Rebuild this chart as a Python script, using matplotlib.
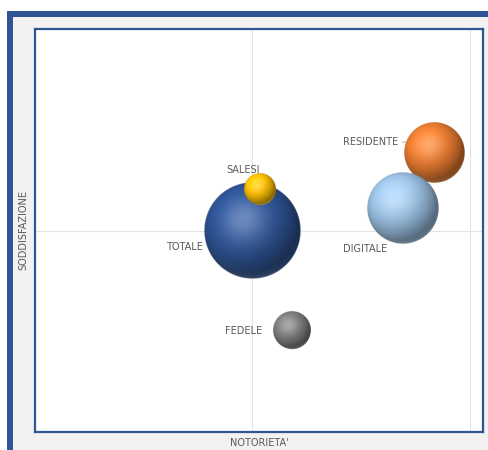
import numpy as np
import matplotlib
matplotlib.use('Agg')
import matplotlib.pyplot as plt
from matplotlib.patches import Rectangle
from matplotlib.colors import to_rgb
from matplotlib.transforms import offset_copy

# dati (notorieta', soddisfazione, dimensione)
segmenti = ['TOTALE', 'RESIDENTE', 'DIGITALE', 'SALESI', 'FEDELE']
notorieta = [50.0, 91.8, 84.5, 51.7, 59.1]
soddisfazione = [50.0, 69.2, 55.6, 60.2, 25.1]
dimensione = [100, 40, 55, 11, 15]
colori = ['#2F5597', '#ED7D31', '#9DC3E6', '#FFC000', '#7F7F7F']

W, H = 488, 450
fig = plt.figure(figsize=(W / 100, H / 100), dpi=100)
fig.patch.set_facecolor('white')

# cornice blu + pannello grigio
fig.add_artist(Rectangle((7 / W, 0), 1, (H - 11) / H, transform=fig.transFigure,
                         facecolor='#2F5597', edgecolor='none', zorder=0))
fig.add_artist(Rectangle((13 / W, 0), 1, (H - 17) / H, transform=fig.transFigure,
                         facecolor='#F3F2F0', edgecolor='none', zorder=0))

ax = fig.add_axes([35 / W, (H - 432) / H, 448 / W, 403 / H])
ax.set_facecolor('white')
ax.set_xlim(0, 103)
ax.set_ylim(0, 100)
ax.set_xticks([0, 50, 100])
ax.set_yticks([0, 50, 100])
ax.tick_params(length=0, labelbottom=False, labelleft=False)
ax.grid(True, color='#E3E3E3', lw=0.8)
ax.set_axisbelow(True)
for s in ax.spines.values():
    s.set_color('#2F5597')
    s.set_linewidth(1.6)

ax.set_xlabel("NOTORIETA'", fontsize=7, color='#595959', labelpad=4)
ax.set_ylabel('SODDISFAZIONE', fontsize=7, color='#595959', labelpad=5)


def sfera(colore, n=240):
    v, u = np.mgrid[1:-1:n * 1j, -1:1:n * 1j]
    r2 = u ** 2 + v ** 2
    z = np.sqrt(np.clip(1 - r2, 0, 1))
    L = np.array([-0.35, 0.45, 0.82])
    L = L / np.linalg.norm(L)
    diff = np.clip(u * L[0] + v * L[1] + z * L[2], 0, 1)
    Hv = L + np.array([0, 0, 1.0])
    Hv = Hv / np.linalg.norm(Hv)
    spec = np.clip(u * Hv[0] + v * Hv[1] + z * Hv[2], 0, 1) ** 10 * 0.28
    refl = np.clip(-v - 0.2, 0, 1) ** 2 * (1 - z) ** 2 * 0.3
    base = np.array(to_rgb(colore))
    shade = 0.55 + 0.55 * diff
    rgb = np.clip(base[None, None, :] * shade[..., None], 0, 1)
    rgb = rgb + (1 - rgb) * (spec + refl)[..., None]
    alpha = np.clip((1 - np.sqrt(r2)) * n / 2.5, 0, 1)
    return np.dstack([np.clip(rgb, 0, 1), alpha])


scala = 47.8
sizes = [d * scala for d in dimensione]
for x, y, s, c in zip(notorieta, soddisfazione, sizes, colori):
    ax.scatter([x], [y], s=s * 0.9, color=c, linewidths=0, zorder=3)
    r = np.sqrt(s) / 2 * fig.dpi / 72
    cx, cy = ax.transData.transform((x, y))
    inv = ax.transData.inverted()
    x0, y0 = inv.transform((cx - r, cy - r))
    x1, y1 = inv.transform((cx + r, cy + r))
    ax.imshow(sfera(c), extent=(x0, x1, y0, y1), aspect='auto', zorder=3,
              interpolation='antialiased')

ax.set_xlim(0, 103)
ax.set_ylim(0, 100)

# etichette
tc = '#595959'
fs = 7
pt = 0.72
pos = dict(zip(segmenti, zip(notorieta, soddisfazione)))
ax.annotate('TOTALE', pos['TOTALE'], xytext=(-49.5 * pt, -16 * pt), textcoords='offset points',
            ha='right', va='center', fontsize=fs, color=tc, zorder=5)
ax.annotate('SALESI', pos['SALESI'], xytext=(-17 * pt, 19.5 * pt), textcoords='offset points',
            ha='center', va='center', fontsize=fs, color=tc, zorder=5)
ax.annotate('FEDELE', pos['FEDELE'], xytext=(-30 * pt, 0), textcoords='offset points',
            ha='right', va='center', fontsize=fs, color=tc, zorder=5)
ax.annotate('DIGITALE', pos['DIGITALE'], xytext=(-59.5 * pt, -41 * pt), textcoords='offset points',
            ha='left', va='center', fontsize=fs, color=tc, zorder=5)
ax.annotate('RESIDENTE', pos['RESIDENTE'],
            xycoords=offset_copy(ax.transData, fig=fig, x=-28.4 * pt, y=11 * pt, units='points'),
            xytext=(-8 * pt, 0), textcoords='offset points',
            ha='right', va='center', fontsize=fs, color=tc, zorder=5,
            arrowprops=dict(arrowstyle='-', color='#A6A6A6', lw=0.6, shrinkA=1, shrinkB=0))

fig.savefig('out.png', dpi=100, facecolor=fig.get_facecolor())
